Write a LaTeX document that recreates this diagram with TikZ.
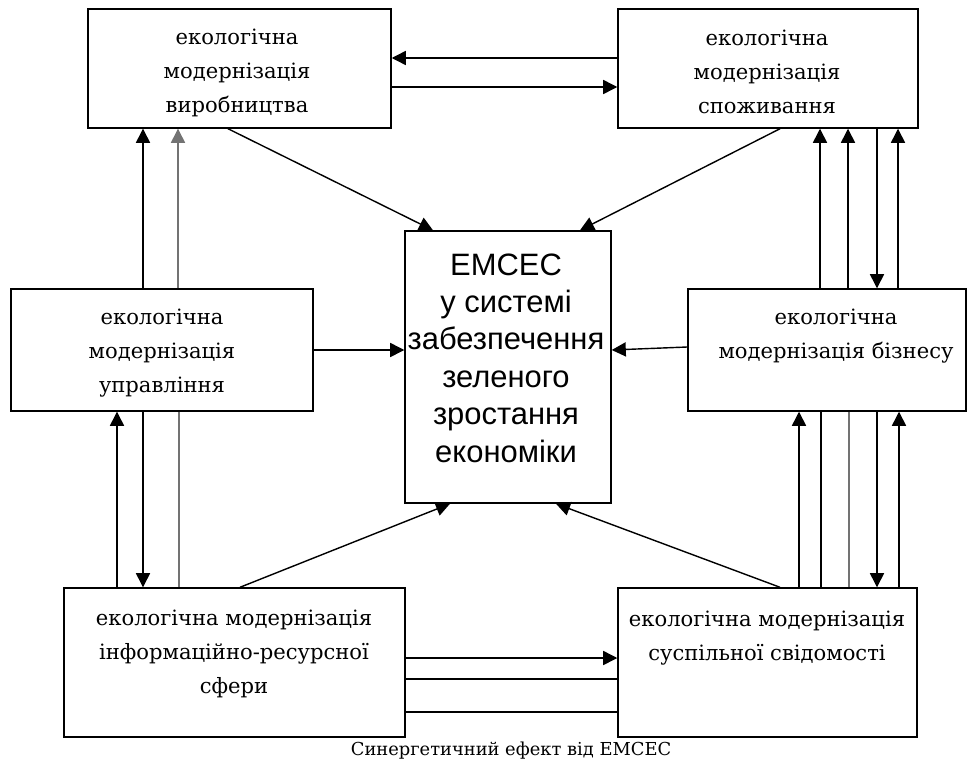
\documentclass[tikz,border=0pt]{standalone}
\usepackage{fontspec}
\setmainfont{DejaVu Serif}
\newfontfamily\emsfont{Liberation Sans}
\usetikzlibrary{arrows.meta}

\begin{document}
\begin{tikzpicture}[x=0.025cm,y=-0.025cm,
  box/.style={draw,line width=1pt,inner sep=0pt},
  txt/.style={align=center,inner sep=0pt,font=\fontsize{15}{24}\selectfont},
  arr/.style={line width=1pt,-{Triangle[length=10pt,width=10pt]}},
  lnk/.style={line width=1pt},
  pale/.style={black!55}]
\useasboundingbox (0,0) rectangle (979,769);
% boxes
\node[box,minimum width=7.575cm,minimum height=2.975cm] (vyr) at (239.5,68.5) {};
\node[box,minimum width=7.5cm,minimum height=2.975cm] (spo) at (768,68.5) {};
\node[box,minimum width=7.55cm,minimum height=3.05cm] (upr) at (162,350) {};
\node[box,minimum width=6.95cm,minimum height=3.05cm] (biz) at (827,350) {};
\node[box,minimum width=5.15cm,minimum height=6.8cm] (ems) at (508,367) {};
\node[box,minimum width=8.525cm,minimum height=3.725cm] (inf) at (234.5,662.5) {};
\node[box,minimum width=7.475cm,minimum height=3.725cm] (svi) at (767.5,662.5) {};
% texts
\node[txt] (vyrt) at (237,73) {екологічна\\модернізація\\виробництва};
\node[txt] (spot) at (767,72) {екологічна\\модернізація\\споживання};
\node[txt] (uprt) at (162,353) {екологічна\\модернізація\\управління};
\node[txt] (bizt) at (836,336) {екологічна\\модернізація бізнесу};
\node[txt] (inft) at (234,654) {екологічна модернізація\\інформаційно-ресурсної\\сфери};
\node[txt] (svit) at (767,638) {екологічна модернізація\\суспільної свідомості};
\node[align=center,inner sep=0pt,font=\emsfont\fontsize{22}{26.6}\selectfont] (emst) at (506,358)
  {ЕМСЕС\\у системі\\забезпечення\\зеленого\\зростання\\економіки};
\node[inner sep=0pt,font=\fontsize{12.7}{15}\selectfont] (cap) at (511,751) {Синергетичний ефект від ЕМСЕС};
% top pair
\draw[arr] (spo.west |- 0,58) -- (vyr.east |- 0,58);
\draw[arr] (vyr.east |- 0,87) -- (spo.west |- 0,87);
% into the centre
\draw[arr] (vyr.south -| 228,0) -- (ems.north -| 433,0);
\draw[arr] (spo.south -| 780,0) -- (ems.north -| 580,0);
\draw[arr] (upr.east |- 0,350) -- (ems.west |- 0,350);
\draw[arr] (biz.west |- 0,347) -- (ems.east |- 0,350);
\draw[arr] (inf.north -| 240,0) -- (ems.south -| 450,0);
\draw[arr] (svi.north -| 780,0) -- (ems.south -| 556,0);
% left side
\draw[arr] (upr.north -| 143,0) -- (vyr.south -| 143,0);
\draw[arr,pale] (upr.north -| 178,0) -- (vyr.south -| 178,0);
\draw[arr] (inf.north -| 117,0) -- (upr.south -| 117,0);
\draw[arr] (upr.south -| 143,0) -- (inf.north -| 143,0);
\draw[lnk,pale] (upr.south -| 179,0) -- (inf.north -| 179,0);
% right side
\foreach \x in {820,848,898}
  \draw[arr] (biz.north -| \x,0) -- (spo.south -| \x,0);
\draw[arr] (spo.south -| 877,0) -- (biz.north -| 877,0);
\foreach \x in {799,899}
  \draw[arr] (svi.north -| \x,0) -- (biz.south -| \x,0);
\draw[arr] (biz.south -| 877,0) -- (svi.north -| 877,0);
\draw[lnk] (biz.south -| 821,0) -- (svi.north -| 821,0);
\draw[lnk,pale] (biz.south -| 849,0) -- (svi.north -| 849,0);
% bottom pair
\draw[arr] (inf.east |- 0,658) -- (svi.west |- 0,658);
\foreach \y in {679,712}
  \draw[lnk] (inf.east |- 0,\y) -- (svi.west |- 0,\y);
\end{tikzpicture}
\end{document}
